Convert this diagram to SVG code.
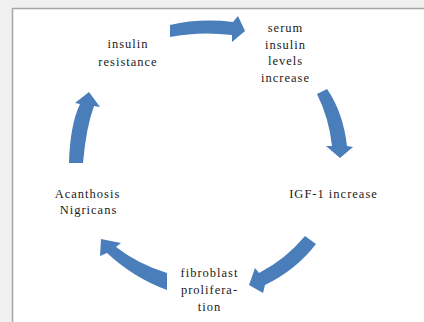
<svg xmlns="http://www.w3.org/2000/svg" width="424" height="322" viewBox="0 0 424 322">
<style>
.lbl{font-family:"Liberation Serif","Times New Roman",serif;font-size:12.5px;fill:#1a1a1a;text-anchor:middle;letter-spacing:1px}
.arr{fill:#4a7ebb}
</style>
<rect x="0" y="0" width="424" height="322" fill="#f0f0f0"/>
<rect x="12.5" y="8.5" width="420" height="320" fill="#ffffff" stroke="#a6a6a6" stroke-width="1.5"/>
<g id="connectors">
<path class="arr" d="M170,25 Q200,18 233,22 L238,16 L245,31 L232,42 L232,35 Q200,31 170,37 Z"/>
<path class="arr" d="M317,94 L327,89 Q343,112 347,146 L353,147 L340,158 L326,146 L332,146 Q329,118 317,94 Z"/>
<path class="arr" d="M305,236 L316,244 Q296,270 265,285 L263,293 L249,285 L255,268 L259,273 Q286,259 305,236 Z"/>
<path class="arr" d="M167,273 Q138,264 116,247 L121,243 L101,239 L100,256 L107,253 Q134,278 167,290 Z"/>
<path class="arr" d="M69,163 Q70,125 80,104 L75,103 L89,92 L100,107 L94,106 Q86,128 83,163 Z"/>
</g>
<g id="insulin-resistance">
<text class="lbl" x="128" y="47.5">insulin</text>
<text class="lbl" x="128" y="65.5">resistance</text>
</g>
<g id="serum-insulin">
<text class="lbl" x="285.5" y="31.5">serum</text>
<text class="lbl" x="285.5" y="48.5">insulin</text>
<text class="lbl" x="285.5" y="65">levels</text>
<text class="lbl" x="285.5" y="81.5">increase</text>
</g>
<g id="igf1">
<text class="lbl" x="333.5" y="197.5">IGF-1 increase</text>
</g>
<g id="fibroblast">
<text class="lbl" x="209.5" y="277">fibroblast</text>
<text class="lbl" x="209.5" y="294">prolifera-</text>
<text class="lbl" x="209.5" y="311">tion</text>
</g>
<g id="acanthosis">
<text class="lbl" x="87.5" y="197.5">Acanthosis</text>
<text class="lbl" x="88.5" y="214">Nigricans</text>
</g>
</svg>
